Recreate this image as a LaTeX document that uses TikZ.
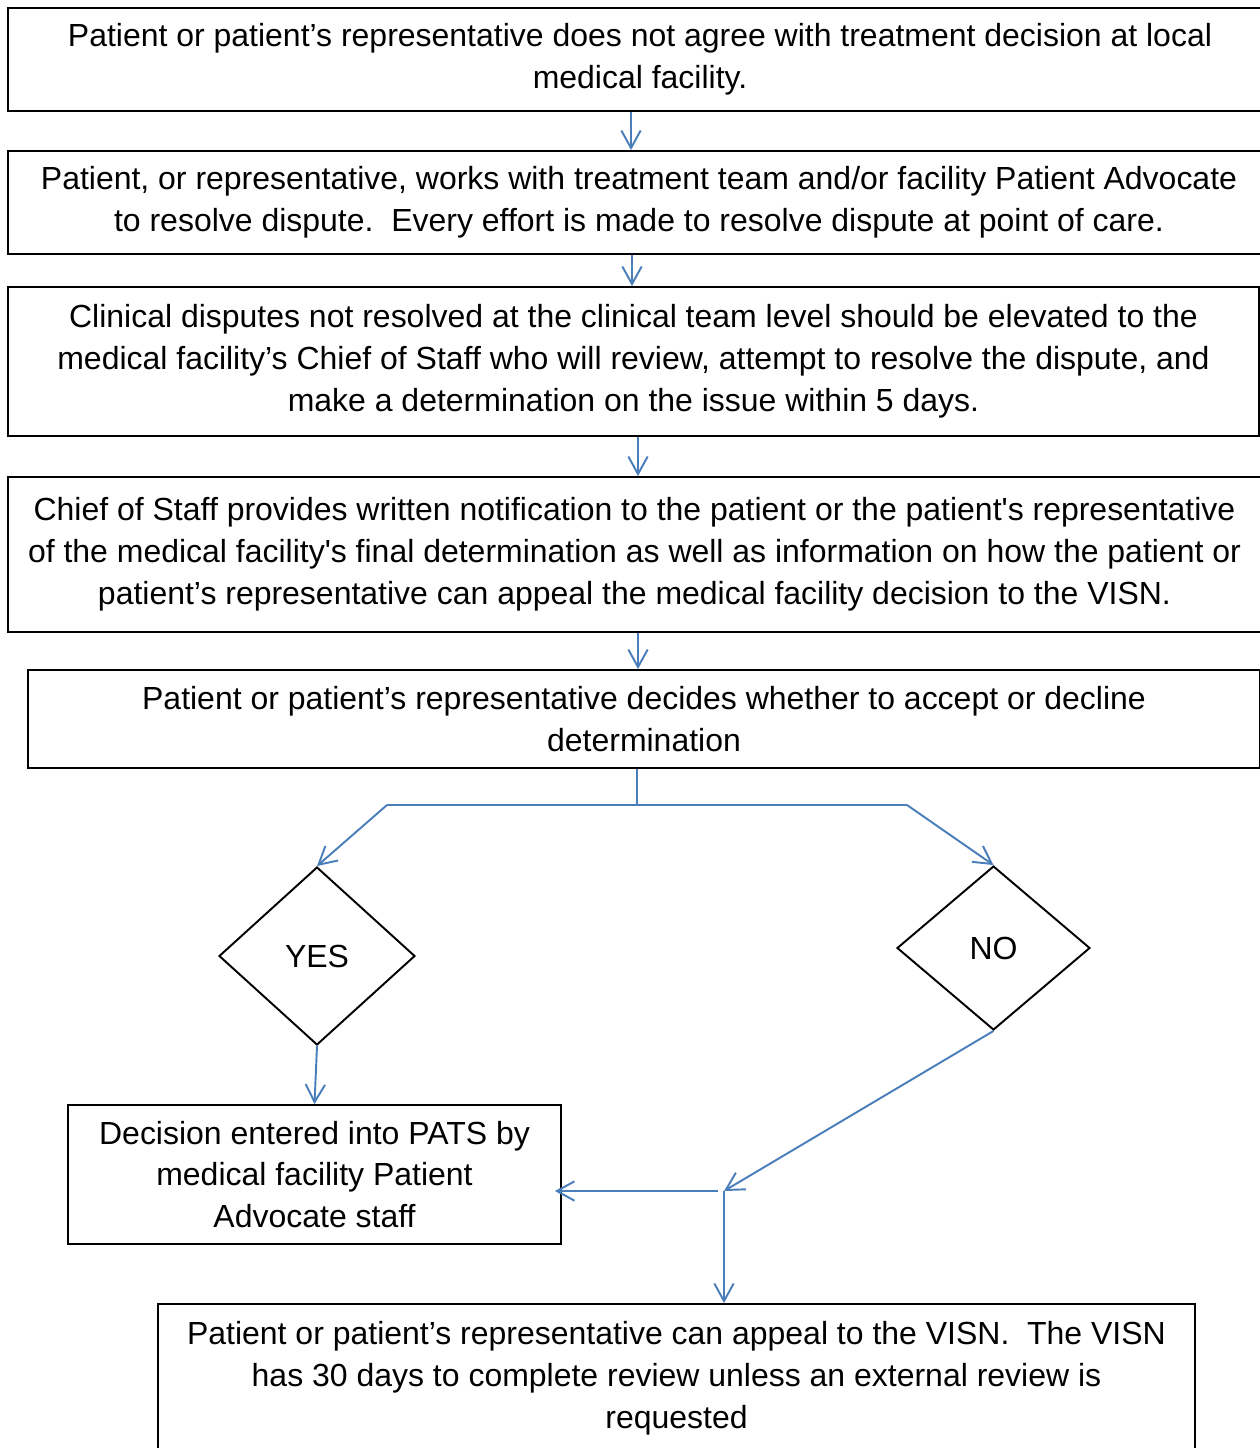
\documentclass[tikz,border=0pt]{standalone}
\usepackage{fontspec}
\setmainfont{Liberation Sans}
\usetikzlibrary{arrows.meta,shapes.geometric}
\definecolor{linkblue}{RGB}{74,126,187}
\begin{document}
\begin{tikzpicture}[x=0.02cm,y=-0.02cm,
		every node/.style={font=\fontsize{18.2pt}{23.8pt}\selectfont},
		stepbox/.style={draw,line width=1.1pt,rectangle,align=center,inner sep=0pt},
		choice/.style={draw,line width=1.1pt,diamond,inner sep=0pt},
		flow/.style={draw=linkblue,line width=1.1pt,-{Straight Barb[length=10pt,width=11pt]}},
		link/.style={draw=linkblue,line width=1.1pt}]
			\useasboundingbox (0,0) rectangle (1260,1448);
			
			\node[stepbox,minimum width=25.28cm,minimum height=2.06cm] (dispute) at (640,59.5) {Patient or patient’s representative does not agree with treatment decision at local\\medical facility.};
			\node[stepbox,minimum width=25.24cm,minimum height=2.06cm] (advocate) at (639,202.5) {Patient, or representative, works with treatment team and/or facility Patient Advocate\\to resolve dispute.\ \ Every effort is made to resolve dispute at point of care.};
			\node[stepbox,minimum width=25.02cm,minimum height=2.98cm] (chief) at (633.5,361.5) {Clinical disputes not resolved at the clinical team level should be elevated to the\\medical facility’s Chief of Staff who will review, attempt to resolve the dispute, and\\make a determination on the issue within 5 days.};
			\node[stepbox,minimum width=25.06cm,minimum height=3.10cm] (notice) at (634.5,554.5) {Chief of Staff provides written notification to the patient or the patient\textquotesingle s representative\\of the medical facility\textquotesingle s final determination as well as information on how the patient or\\patient’s representative can appeal the medical facility decision to the VISN.};
			\node[stepbox,minimum width=24.64cm,minimum height=1.96cm] (decide) at (644,719) {Patient or patient’s representative decides whether to accept or decline\\determination};
			
			\node[choice,minimum width=3.92cm,minimum height=3.56cm] (yes) at (317,956) {YES};
			\node[choice,minimum width=3.86cm,minimum height=3.28cm] (no) at (993.5,948) {NO};
			
			\node[stepbox,minimum width=9.86cm,minimum height=2.78cm] (pats) at (314.5,1174.5) {Decision entered into PATS by\\medical facility Patient\\Advocate staff};
			\node[stepbox,minimum width=20.74cm,minimum height=2.96cm] (visn) at (676.5,1378) {Patient or patient’s representative can appeal to the VISN.\ \ The VISN\\has 30 days to complete review unless an external review is\\requested};
			
			\coordinate (split) at (637,805);
			\coordinate (splitL) at (387,805);
			\coordinate (splitR) at (907,805);
			\coordinate (merge) at (724,1191);
			\coordinate (mergeW) at (718,1191);
			
			\draw[flow] (631,0 |- dispute.south) -- (631,0 |- advocate.north);
			\draw[flow] (632,0 |- advocate.south) -- (632,0 |- chief.north);
			\draw[flow] (638,0 |- chief.south) -- (638,0 |- notice.north);
			\draw[flow] (638,0 |- notice.south) -- (638,0 |- decide.north);
			
			\draw[link] (split |- decide.south) -- (split);
			\draw[link] (splitL) -- (splitR);
			\draw[flow] (splitL) -- (yes.north);
			\draw[flow] (splitR) -- (no.north);
			
			\draw[flow] (yes.south) -- (pats.north);
			\draw[flow] (no.south) -- (merge);
			\draw[flow,shorten >=-4pt] (mergeW) -- (mergeW -| pats.east);
			\draw[flow] (merge) -- (merge |- visn.north);
		\end{tikzpicture}
\end{document}
